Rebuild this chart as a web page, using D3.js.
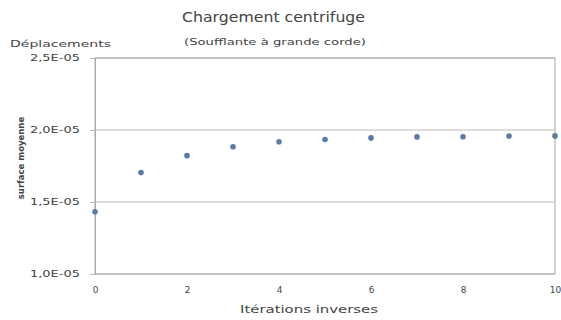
<!DOCTYPE html>
<html>
<head>
<meta charset="utf-8">
<script src="https://cdn.jsdelivr.net/npm/d3@7"></script>
<style>
  body { margin: 0; background: #fff; }
  text { font-family: "DejaVu Sans", sans-serif; fill: #444; }
</style>
</head>
<body>
<div id="chart-area"></div>
<script>
// data
var iterations = [0, 1, 2, 3, 4, 5, 6, 7, 8, 9, 10];
var displacements = [1.432e-5, 1.705e-5, 1.822e-5, 1.884e-5, 1.918e-5, 1.934e-5, 1.945e-5, 1.952e-5, 1.953e-5, 1.958e-5, 1.959e-5];
var yTicks = [1.0e-5, 1.5e-5, 2.0e-5, 2.5e-5];
var xTicks = [0, 2, 4, 6, 8, 10];

var margin = { left: 95, right: 6, top: 58, bottom: 46 };
var width = 561 - margin.left - margin.right,
    height = 320 - margin.top - margin.bottom;

var svg = d3.select("#chart-area")
    .append("svg")
        .attr("width", 561)
        .attr("height", 320);

// the reference text is stretched wide, so lengths are set
svg.append("text")
    .attr("x", 182)
    .attr("y", 22)
    .attr("font-size", "14px")
    .attr("textLength", 183)
    .attr("lengthAdjust", "spacingAndGlyphs")
    .text("Chargement centrifuge");

svg.append("text")
    .attr("x", 184)
    .attr("y", 45)
    .attr("font-size", "9.5px")
    .attr("textLength", 182)
    .attr("lengthAdjust", "spacingAndGlyphs")
    .text("(Soufflante à grande corde)");

svg.append("text")
    .attr("x", 10)
    .attr("y", 47)
    .attr("font-size", "9.5px")
    .attr("textLength", 101)
    .attr("lengthAdjust", "spacingAndGlyphs")
    .text("Déplacements");

var g = svg.append("g")
    .attr("transform", "translate(" + margin.left + "," + margin.top + ")");

var x = d3.scaleLinear().domain([0, 10]).range([0, width]);
var y = d3.scaleLinear().domain([1.0e-5, 2.5e-5]).range([height, 0]);

// grid lines
g.selectAll(".grid")
    .data(yTicks)
    .enter()
    .append("line")
        .attr("x1", 0)
        .attr("x2", width)
        .attr("y1", d => y(d))
        .attr("y2", d => y(d))
        .attr("stroke", "#bbb")
        .attr("stroke-width", 1);

// plot frame
g.append("rect")
    .attr("width", width)
    .attr("height", height)
    .attr("fill", "none")
    .attr("stroke", "#aaa");

var yAxisCall = d3.axisLeft(y)
    .tickValues(yTicks)
    .tickSize(5)
    .tickFormat(d => d3.format(".1e")(d).replace(".", ",").replace("e-", "E-0").toUpperCase());

g.append("g")
    .attr("class", "y axis")
    .call(yAxisCall)
    .call(s => s.select(".domain").attr("stroke", "#aaa"))
    .call(s => s.selectAll("line").attr("stroke", "#bbb"))
    .selectAll("text")
        .attr("font-size", "8px")
        .attr("fill", "#555")
        .attr("x", -15)
        .attr("textLength", 50)
        .attr("lengthAdjust", "spacingAndGlyphs");

var xAxisCall = d3.axisBottom(x)
    .tickValues(xTicks)
    .tickSize(0);

g.append("g")
    .attr("class", "x axis")
    .attr("transform", "translate(0," + height + ")")
    .call(xAxisCall)
    .call(s => s.select(".domain").remove())
    .selectAll("text")
        .attr("font-size", "9px")
        .attr("fill", "#555")
        .attr("y", 13);

// axis titles
svg.append("text")
    .attr("x", 240)
    .attr("y", 313)
    .attr("font-size", "10.5px")
    .attr("textLength", 138)
    .attr("lengthAdjust", "spacingAndGlyphs")
    .text("Itérations inverses");

svg.append("text")
    .attr("transform", "translate(24,158) rotate(-90)")
    .attr("font-size", "8.5px")
    .attr("font-weight", "bold")
    .attr("fill", "#222")
    .attr("text-anchor", "middle")
    .text("surface moyenne");

// points
g.selectAll("circle")
    .data(iterations)
    .enter()
    .append("circle")
        .attr("cx", d => x(d))
        .attr("cy", (d, i) => y(displacements[i]))
        .attr("r", 2.8)
        .attr("fill", "#5b7aa8");
</script>
</body>
</html>
